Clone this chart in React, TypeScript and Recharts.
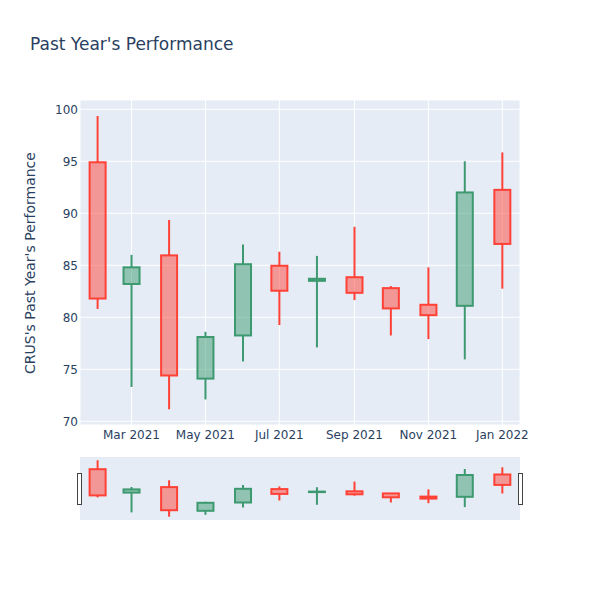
import { Bar, CartesianGrid, ComposedChart, XAxis, YAxis } from 'recharts';

const months = [
  '2021-02-01', '2021-03-01', '2021-04-01', '2021-05-01', '2021-06-01', '2021-07-01',
  '2021-08-01', '2021-09-01', '2021-10-01', '2021-11-01', '2021-12-01', '2022-01-01',
];
const opens = [94.9, 83.2, 85.95, 74.1, 78.25, 84.95, 83.5, 83.85, 82.8, 81.2, 81.1, 92.25];
const highs = [99.35, 86.0, 89.35, 78.6, 87.0, 86.3, 85.9, 88.7, 83.0, 84.8, 95.0, 95.85];
const lows = [80.8, 73.3, 71.15, 72.1, 75.75, 79.25, 77.1, 81.65, 78.25, 77.9, 75.95, 82.75];
const closes = [81.8, 84.8, 74.4, 78.1, 85.1, 82.55, 83.7, 82.35, 80.85, 80.2, 92.0, 87.05];

const xTickDates = ['2021-03-01', '2021-05-01', '2021-07-01', '2021-09-01', '2021-11-01', '2022-01-01'];
const xTickLabels = ['Mar 2021', 'May 2021', 'Jul 2021', 'Sep 2021', 'Nov 2021', 'Jan 2022'];
const yTicks = [70, 75, 80, 85, 90, 95, 100];

const DAY = 24 * 3600 * 1000;
const data = months.map((m, i) => ({
  t: Date.parse(m),
  open: opens[i],
  high: highs[i],
  low: lows[i],
  close: closes[i],
  range: [lows[i], highs[i]],
}));
const xTicks = xTickDates.map((d) => Date.parse(d));
const xDomain = [data[0].t - 14.5 * DAY, data[data.length - 1].t + 14.6 * DAY];

const UP = '#3D9970';
const DOWN = '#FF4136';
const TEXT = '#2a3f5f';
const FONT = '"DejaVu Sans", sans-serif';

function Candle(props: any) {
  const { x, y, width, height, payload } = props;
  if (!payload || x == null) return null;
  const { open, close, high, low } = payload;
  const y0 = Math.min(y, y + height);
  const h = Math.abs(height);
  const ppu = h / (high - low);
  const yOf = (v: number) => y0 + (high - v) * ppu;
  const up = close >= open;
  const stroke = up ? UP : DOWN;
  const fill = up ? 'rgba(61,153,112,0.5)' : 'rgba(255,65,54,0.5)';
  const top = yOf(Math.max(open, close));
  const bottom = yOf(Math.min(open, close));
  const cx = x + width / 2;
  return (
    <g>
      <line x1={cx} x2={cx} y1={y0} y2={top} stroke={stroke} strokeWidth={2} />
      <line x1={cx} x2={cx} y1={bottom} y2={y0 + h} stroke={stroke} strokeWidth={2} />
      <rect x={x} y={top} width={width} height={Math.max(bottom - top, 0.5)} fill={fill} stroke={stroke} strokeWidth={2} />
    </g>
  );
}

const fmtX = (v: number) => {
  const i = xTicks.indexOf(v);
  return i >= 0 ? xTickLabels[i] : '';
};

const handle = (left: number) => ({
  position: 'absolute' as const,
  left,
  top: 473,
  width: 5,
  height: 32,
  boxSizing: 'border-box' as const,
  border: '1px solid #444',
  background: '#fff',
});

export default function App() {
  return (
    <div style={{ position: 'absolute', left: 0, top: 0, width: 600, height: 600, background: '#fff', fontFamily: FONT }}>
      <div style={{ position: 'absolute', left: 30, top: 34, fontSize: 17, color: TEXT, whiteSpace: 'nowrap' }}>
        Past Year's Performance
      </div>
      <div
        style={{
          position: 'absolute',
          left: 29.5,
          top: 262.5,
          fontSize: 14,
          color: TEXT,
          whiteSpace: 'nowrap',
          transform: 'translate(-50%, -50%) rotate(-90deg)',
        }}
      >
        CRUS's Past Year's Performance
      </div>
      <div style={{ position: 'absolute', left: 0, top: 0 }}>
        <ComposedChart width={600} height={455} data={data} margin={{ top: 100, right: 80, left: 0, bottom: 0 }}>
          <CartesianGrid fill="#E5ECF6" stroke="#fff" strokeWidth={1} />
          <XAxis
            dataKey="t"
            type="number"
            scale="linear"
            domain={xDomain}
            ticks={xTicks}
            tickFormatter={fmtX}
            axisLine={false}
            tickLine={false}
            tickSize={0}
            tickMargin={5}
            height={30}
            interval={0}
            tick={{ fill: TEXT, fontSize: 12, fontFamily: FONT }}
            allowDataOverflow
          />
          <YAxis
            type="number"
            domain={[69.64, 100.89]}
            ticks={yTicks}
            axisLine={false}
            tickLine={false}
            tickSize={0}
            tickMargin={2}
            width={80}
            interval={0}
            tick={{ fill: TEXT, fontSize: 12, fontFamily: FONT }}
            allowDataOverflow
          />
          <Bar dataKey="range" barSize={16} shape={Candle} isAnimationActive={false} />
        </ComposedChart>
      </div>
      <div style={{ position: 'absolute', left: 80, top: 457 }}>
        <ComposedChart width={440} height={63} data={data} margin={{ top: 0, right: 0, left: 0, bottom: 0 }}>
          <CartesianGrid fill="#E5ECF6" stroke="none" />
          <XAxis dataKey="t" type="number" scale="linear" domain={xDomain} hide allowDataOverflow />
          <YAxis type="number" domain={[69.5, 101]} hide allowDataOverflow />
          <Bar dataKey="range" barSize={16} shape={Candle} isAnimationActive={false} />
        </ComposedChart>
      </div>
      <div style={handle(77)} />
      <div style={handle(518)} />
    </div>
  );
}
